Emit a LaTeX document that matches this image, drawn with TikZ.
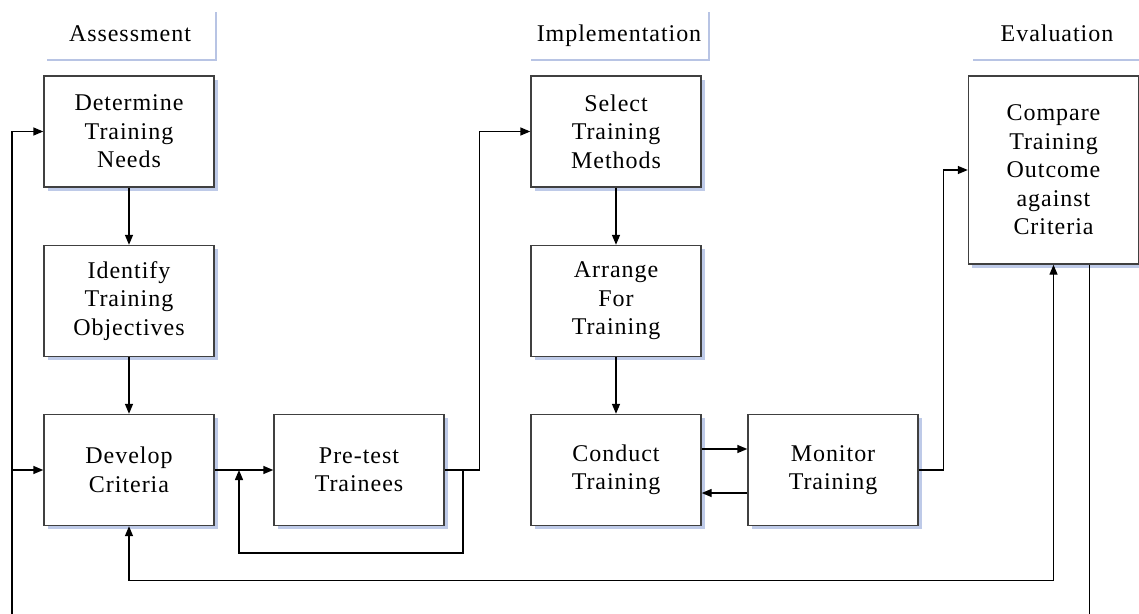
\documentclass[tikz,border=0pt]{standalone}
\usepackage{fontspec}
\setmainfont{Liberation Serif}[LetterSpace=4]
\usetikzlibrary{arrows.meta,shadows}
\definecolor{shadowblue}{RGB}{190,202,232}
\definecolor{hdrblue}{RGB}{184,196,228}
\definecolor{edge}{RGB}{64,64,64}
\begin{document}
\begin{tikzpicture}[x=1pt,y=-1pt,
  every node/.style={font=\fontsize{24pt}{28.5pt}\selectfont, align=center, inner sep=0pt},
  stepbox/.style={draw=edge, line width=1.4pt, fill=white, minimum width=170pt, minimum height=111pt,
    general shadow={fill=shadowblue, shadow xshift=3.5pt, shadow yshift=-3.5pt}},
  hdr/.style={draw=hdrblue, line width=2.5pt},
  arr/.style={line width=1.4pt, -{Triangle[length=10pt,width=8pt]}},
  link/.style={line width=1.4pt},
  both/.style={line width=1.4pt, {Triangle[length=10pt,width=8pt]}-{Triangle[length=10pt,width=8pt]}}]
\useasboundingbox (0,0) rectangle (1139,613);
\clip (0,0) rectangle (1139,613);

% phase headings
\draw[hdr] (47,60) -- (216,60) -- (216,12);
\draw[hdr] (531,60) -- (709,60) -- (709,12);
\draw[hdr] (973,60) -- (1150,60) -- (1150,12);
\node[anchor=base] (hA) at (130,41) {Assessment};
\node[anchor=base] (hI) at (619,41) {Implementation};
\node[anchor=base] (hE) at (1057,41) {Evaluation};

% process steps
\node[stepbox] (det) at (129,131.5) {Determine\\Training\\Needs};
\node[stepbox] (idf) at (129,301) {Identify\\Training\\Objectives};
\node[stepbox] (dev) at (129,470) {Develop\\Criteria};
\node[stepbox] (pre) at (359,470) {Pre-test\\Trainees};
\node[stepbox] (sel) at (616,131.5) {Select\\Training\\Methods};
\node[stepbox] (arg) at (616,301) {Arrange\\For\\Training};
\node[stepbox] (con) at (616,470) {Conduct\\Training};
\node[stepbox] (mon) at (833,470) {Monitor\\Training};
\node[stepbox, minimum height=188pt] (cmp) at (1053.5,170) {Compare\\Training\\Outcome\\against\\Criteria};

% helper points
\coordinate (fbR) at (463,470);
\coordinate (fbL) at (239,470);
\coordinate (loopL) at (12,470);
\coordinate (loopT) at (12,131.5);

% flow
\draw[arr] (det) -- (idf);
\draw[arr] (idf) -- (dev);
\draw[arr] (dev.east) -- (pre.west);
\draw[arr] (pre.east) -- ++(35,0) |- (sel.west);
\draw[arr] (fbR) -- ++(0,83) -| (fbL);
\draw[arr] (sel) -- (arg);
\draw[arr] (arg) -- (con);
\draw[arr] ([yshift=21pt]con.east) -- ([yshift=21pt]mon.west);
\draw[arr] ([yshift=-23pt]mon.west) -- ([yshift=-23pt]con.west -| con.east);
\draw[arr] (mon.east) -- ++(25,0) |- (cmp.west);
\draw[both] (dev.south) -- ++(0,54) -| (cmp.south);

% outer return loop
\draw[link] ([xshift=36pt]cmp.south) -- ++(0,400) -| (loopL);
\draw[arr] (loopL) -- (loopT) -- (det.west);
\draw[arr] (loopL) -- (dev.west);
\end{tikzpicture}
\end{document}
